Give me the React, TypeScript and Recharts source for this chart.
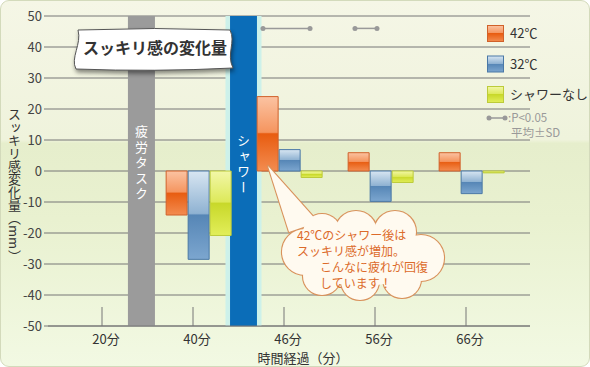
import React from 'react';
import {
  ComposedChart,
  Bar,
  XAxis,
  YAxis,
  CartesianGrid,
  ReferenceArea,
  ReferenceLine,
  ReferenceDot,
} from 'recharts';

// measurement times
const categories = ['20分', '40分', '46分', '56分', '66分'];
// change of refreshed feeling (mm), per condition
const hot42 = [null, -14.2, 24, 5.9, 5.9];
const warm32 = [null, -28.5, 6.9, -9.8, -7.3];
const noShower = [null, -20.8, -2.1, -3.7, -0.6];
const seriesNames = ['42℃', '32℃', 'シャワーなし'];
const yTicks = [50, 40, 30, 20, 10, 0, -10, -20, -30, -40, -50];

// phases on the time axis, in category units (0 = centre of 20分)
const phaseLabels = ['疲労タスク', 'シャワー'];
const phaseStart = [0.23, 1.352];
const phaseEnd = [0.527, 1.648];

// significance brackets (P<0.05)
const sigStart = [1.714, 2.725];
const sigEnd = [2.231, 2.967];
const sigLevel = 46;

const data = categories.map((time, i) => ({
  idx: i,
  time,
  hot: hot42[i],
  warm: warm32[i],
  none: noShower[i],
}));

const FONT = '"Noto Sans CJK JP", "Noto Sans", sans-serif';
const GRID = '#767676';
const PAD = { left: 13.5, right: 13.5 };

const palette = {
  hot: { id: 'gHot', stops: ['#fbc3a2', '#f5955f', '#e85c10', '#f38c50'], stroke: '#d0612a' },
  warm: { id: 'gWarm', stops: ['#d8e6f2', '#8fb2d2', '#5686b6', '#7ca6cf'], stroke: '#4a78a6' },
  none: { id: 'gNone', stops: ['#f2f7a8', '#dde95a', '#c8d82a', '#e2ee5a'], stroke: '#bccb3a' },
};
const keys = ['hot', 'warm', 'none'];
const phaseColors = ['#9b9b9b', '#0b6db8'];

const TimeTick = (props) => {
  const { x, y, payload } = props;
  return (
    <g>
      <line x1={x - 5} x2={x - 5} y1={y - 9} y2={y - 28} stroke={GRID} />
      <text x={x - 1} y={y} dy="0.71em" textAnchor="middle" fill="#333" fontSize={13} fontFamily={FONT}>
        {payload.value}
      </text>
    </g>
  );
};

const PhaseLabel = ({ viewBox, text, top }) => {
  const cx = viewBox.x + viewBox.width / 2;
  return (
    <text
      x={cx}
      y={viewBox.y + top}
      fill="#fff"
      fontSize={13}
      fontFamily={FONT}
      letterSpacing={2.5}
      style={{ writingMode: 'vertical-rl' }}
    >
      {text}
    </text>
  );
};

const cloud = [
  [305, 252, 23],
  [322, 233, 19],
  [356, 232, 21],
  [395, 232, 21],
  [421, 258, 23],
  [402, 279, 19],
  [360, 281, 19],
  [322, 276, 19],
];
const tail = 'M268,166 L289,232 L318,222 Z';

export default function App() {
  return (
    <div style={{ position: 'relative', width: 590, height: 367, background: '#fff', fontFamily: FONT }}>
      <style>{'body{margin:0}'}</style>
      <div
        style={{
          position: 'absolute',
          inset: 0,
          boxSizing: 'border-box',
          border: '1px solid #d3dabb',
          borderRadius: 9,
          background:
            'linear-gradient(#f5f6e6 0%, #eff3dc 38%, #e6eecc 39%, #e9f1d0 60%, #f2f9e3 100%)',
        }}
      />
      <div style={{ position: 'absolute', left: 0, top: 0 }}>
        <ComposedChart
          width={590}
          height={367}
          data={data}
          margin={{ top: 16, right: 60, bottom: 0, left: 0 }}
          barCategoryGap="15%"
          barGap={1}
        >
          <defs>
            {keys.map((k) => (
              <linearGradient key={k} id={palette[k].id} x1="0" y1="0" x2="0" y2="1">
                <stop offset="0%" stopColor={palette[k].stops[0]} />
                <stop offset="48%" stopColor={palette[k].stops[1]} />
                <stop offset="50%" stopColor={palette[k].stops[2]} />
                <stop offset="100%" stopColor={palette[k].stops[3]} />
              </linearGradient>
            ))}
          </defs>
          <CartesianGrid vertical={false} stroke={GRID} />
          <XAxis
            dataKey="time"
            height={41}
            padding={PAD}
            axisLine={{ stroke: GRID }}
            tickLine={false}
            tickSize={0}
            tickMargin={9}
            tick={<TimeTick />}
            interval={0}
            label={{
              content: ({ viewBox }) => (
                <text
                  x={viewBox.x + viewBox.width / 2 + 14}
                  y={viewBox.y + 37}
                  textAnchor="middle"
                  fill="#333"
                  fontSize={13}
                  fontFamily={FONT}
                >
                  時間経過（分）
                </text>
              ),
            }}
          />
          <XAxis
            xAxisId="pos"
            dataKey="idx"
            type="number"
            domain={[-0.5, 4.5]}
            padding={PAD}
            hide
            allowDataOverflow
          />
          <YAxis
            width={48}
            domain={[-50, 50]}
            ticks={yTicks}
            interval={0}
            axisLine={false}
            tickLine={{ stroke: GRID }}
            tickSize={4}
            tickMargin={2}
            tick={{ fill: '#444', fontSize: 13, fontFamily: FONT }}
          />
          <ReferenceArea
            xAxisId="pos"
            x1={phaseStart[1] - 0.05}
            x2={phaseEnd[1] + 0.05}
            y1={-50}
            y2={50}
            fill="#cdf1ea"
            fillOpacity={1}
            stroke="none"
          />
          {phaseLabels.map((label, i) => (
            <ReferenceArea
              key={label}
              xAxisId="pos"
              x1={phaseStart[i]}
              x2={phaseEnd[i]}
              y1={-50}
              y2={50}
              fill={phaseColors[i]}
              fillOpacity={1}
              stroke="none"
              label={<PhaseLabel text={label} top={i === 0 ? 109 : 118} />}
            />
          ))}
          {keys.map((k, i) => (
            <Bar
              key={k}
              dataKey={k}
              name={seriesNames[i]}
              fill={`url(#${palette[k].id})`}
              stroke={palette[k].stroke}
              strokeWidth={1}
              isAnimationActive={false}
            />
          ))}
          {sigStart.map((s, i) => (
            <ReferenceLine
              key={`l${i}`}
              xAxisId="pos"
              segment={[
                { x: s, y: sigLevel },
                { x: sigEnd[i], y: sigLevel },
              ]}
              stroke="#999"
              strokeWidth={1.5}
            />
          ))}
          {sigStart.flatMap((s, i) =>
            [s, sigEnd[i]].map((x, j) => (
              <ReferenceDot
                key={`d${i}${j}`}
                xAxisId="pos"
                x={x}
                y={sigLevel}
                r={2.5}
                fill="#999"
                stroke="none"
              />
            ))
          )}
        </ComposedChart>
      </div>

      {/* y-axis title */}
      <div
        style={{
          position: 'absolute',
          left: 7,
          top: 108,
          writingMode: 'vertical-rl',
          fontSize: 13,
          color: '#333',
          lineHeight: '14px',
        }}
      >
        スッキリ感変化量（mm）
      </div>

      <svg width={590} height={367} style={{ position: 'absolute', left: 0, top: 0, pointerEvents: 'none' }}>
        {/* title banner */}
        <path
          d="M78,30 Q155,27 230,30 C236,42 226,54 233,68 Q155,72 76,69 C70,58 82,44 78,30 Z"
          fill="#fff"
          stroke="#555"
          strokeWidth={1}
          style={{ filter: 'drop-shadow(1px 3px 2px rgba(0,0,0,0.45))' }}
        />
        <text x={155} y={54} textAnchor="middle" fontSize={16} fontWeight="bold" fill="#333" fontFamily={FONT}>
          スッキリ感の変化量
        </text>

        {/* callout */}
        <g>
          {cloud.map(([cx, cy, r], i) => (
            <circle key={`s${i}`} cx={cx} cy={cy} r={r} fill="none" stroke="#d9925c" strokeWidth={2.2} />
          ))}
          <path d={tail} fill="none" stroke="#d9925c" strokeWidth={2.2} strokeLinejoin="round" />
          {cloud.map(([cx, cy, r], i) => (
            <circle key={`f${i}`} cx={cx} cy={cy} r={r} fill="#fffaf0" />
          ))}
          <ellipse cx={362} cy={256} rx={62} ry={30} fill="#fffaf0" />
          <path d={tail} fill="#fffaf0" />
          <g fill="#dc6a2a" fontSize={12} fontFamily={FONT}>
            <text x={297} y={240}>42℃のシャワー後は</text>
            <text x={297} y={256}>スッキリ感が増加。</text>
            <text x={320} y={272}>こんなに疲れが回復</text>
            <text x={320} y={288}>しています！</text>
          </g>
        </g>

        {/* legend */}
        <defs>
          {keys.map((k) => (
            <linearGradient key={k} id={`lg${k}`} x1="0" y1="0" x2="0" y2="1">
              <stop offset="0%" stopColor={palette[k].stops[0]} />
              <stop offset="48%" stopColor={palette[k].stops[1]} />
              <stop offset="50%" stopColor={palette[k].stops[2]} />
              <stop offset="100%" stopColor={palette[k].stops[3]} />
            </linearGradient>
          ))}
        </defs>
        {keys.map((k, i) => (
          <g key={k}>
            <rect
              x={487.5}
              y={25.5 + i * 30.5}
              width={16}
              height={16}
              fill={`url(#lg${k})`}
              stroke={palette[k].stroke}
            />
            <text x={510} y={38 + i * 30.5} fontSize={13} fill="#333" fontFamily={FONT}>
              {seriesNames[i]}
            </text>
          </g>
        ))}
        <line x1={489} x2={505} y1={118} y2={118} stroke="#999" strokeWidth={1.5} />
        <circle cx={489} cy={118} r={2.5} fill="#999" />
        <circle cx={505} cy={118} r={2.5} fill="#999" />
        <text x={508} y={121.5} fontSize={11.5} fill="#999" fontFamily={FONT}>
          :P&lt;0.05
        </text>
        <text x={511} y={136.5} fontSize={11.5} fill="#999" fontFamily={FONT}>
          平均±SD
        </text>
      </svg>
    </div>
  );
}
